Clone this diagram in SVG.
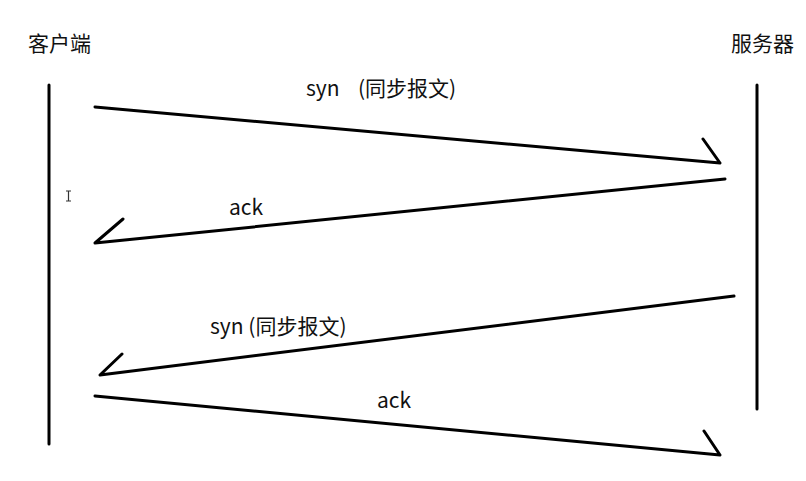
<svg xmlns="http://www.w3.org/2000/svg" width="806" height="481" viewBox="0 0 806 481">
<style>
.t{font-family:"Noto Sans CJK SC","Noto Sans",sans-serif;font-size:21px;fill:#111}
.l{stroke:#000;stroke-width:3;fill:none;stroke-linecap:round;stroke-linejoin:round}
</style>
<rect width="806" height="481" fill="#fff"/>
<g id="client"><text class="t" x="28" y="51">客户端</text><line class="l" x1="49" y1="85" x2="49" y2="444"/></g>
<g id="server"><text class="t" x="731" y="51">服务器</text><line class="l" x1="757" y1="85" x2="757" y2="409"/></g>
<g id="connectors">
<g id="m1"><path class="l" d="M95 107 L720 163 M703 139 L720 163"/><text class="t" x="306" y="96">syn <tspan x="358">(同步报文)</tspan></text></g>
<g id="m2"><path class="l" d="M725 179 L95 243 L123 219"/><text class="t" x="229" y="215">ack</text></g>
<g id="m3"><path class="l" d="M734 296 L100 375 L122 354"/><text class="t" x="210" y="334">syn (同步报文)</text></g>
<g id="m4"><path class="l" d="M95 396 L720 455 M704 431 L720 455"/><text class="t" x="377" y="408">ack</text></g>
</g>
<path d="M66 191 H71 M68.5 191 V201 M66 201 H71" stroke="#333" stroke-width="1.2" fill="none"/>
</svg>
